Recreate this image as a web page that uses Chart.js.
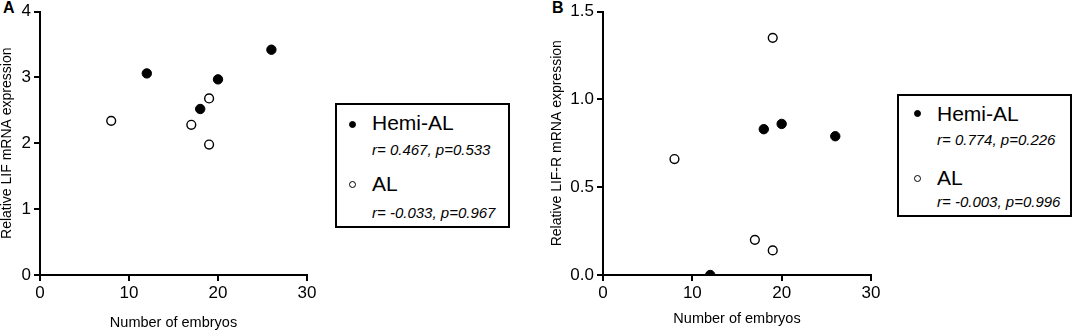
<!DOCTYPE html>
<html>
<head>
<meta charset="utf-8">
<script src="https://cdn.jsdelivr.net/npm/chart.js@4/dist/chart.umd.min.js"></script>
<style>
  body { margin: 0; background: #fff; }
  #page { position: relative; width: 1074px; height: 333px; overflow: hidden; font-family: "Liberation Sans", Arial, sans-serif; color: #000; }
  .panel { position: absolute; top: 0; height: 333px; }
  .letter { position: absolute; font-weight: bold; font-size: 16px; line-height: 16px; }
  .legend { position: absolute; box-sizing: border-box; border: 2px solid #000; width: 175px; background: #fff; }
  .legend .dot { position: absolute; width: 7px; height: 7px; border-radius: 50%; box-sizing: border-box; border: 1px solid #000; }
  .legend .name { position: absolute; font-size: 21px; line-height: 22px; white-space: nowrap; }
  .legend .stat { position: absolute; font-size: 15px; line-height: 16px; font-style: italic; white-space: nowrap; }
</style>
</head>
<body>
<div id="page">
  <div class="letter" style="left:3px; top:0px;">A</div>
  <div class="panel" style="left:0px; width:330px;"><canvas id="chartLif"></canvas></div>
  <div class="legend" style="left:335px; top:103px; height:125px;">
    <div class="dot" style="left:12px; top:16px; background:#000;"></div>
    <div class="name" style="left:35px; top:7px;">Hemi-AL</div>
    <div class="stat" style="left:35px; top:37px;">r= 0.467, p=0.533</div>
    <div class="dot" style="left:12px; top:76px; background:#fff;"></div>
    <div class="name" style="left:35px; top:68px;">AL</div>
    <div class="stat" style="left:35px; top:100px;">r= -0.033, p=0.967</div>
  </div>

  <div class="letter" style="left:552px; top:0px;">B</div>
  <div class="panel" style="left:550px; width:340px;"><canvas id="chartLifR"></canvas></div>
  <div class="legend" style="left:897px; top:94px; height:123px;">
    <div class="dot" style="left:15px; top:14px; background:#000;"></div>
    <div class="name" style="left:38px; top:7px;">Hemi-AL</div>
    <div class="stat" style="left:38px; top:36px;">r= 0.774, p=0.226</div>
    <div class="dot" style="left:15px; top:79px; background:#fff;"></div>
    <div class="name" style="left:38px; top:71px;">AL</div>
    <div class="stat" style="left:38px; top:98px;">r= -0.003, p=0.996</div>
  </div>
</div>

<script>
// --- DONNÉES ---
const hemiEmbryos = [12, 18, 20, 26];
const alEmbryos = [8, 17, 19, 19];

// A : LIF
const hemiLif = [3.06, 2.52, 2.97, 3.42];
const alLif = [2.34, 2.28, 2.68, 1.98];

// B : LIF-R
const hemiLifR = [0.0, 0.83, 0.86, 0.79];
const alLifR = [0.66, 0.2, 0.14, 1.35];

const xTicks = [0, 10, 20, 30];
const yTicksA = [0, 1, 2, 3, 4];
const yTicksB = [0, 0.5, 1.0, 1.5];

Chart.defaults.font.family = "'Liberation Sans', Arial, sans-serif";
Chart.defaults.color = "#000";

function toPoints(xs, ys) {
  return xs.map((x, i) => ({ x: x, y: ys[i] }));
}

// --- CRÉATION D'UN NUAGE DE POINTS ---
function makeScatter(id, hemi, al, yOpts) {
  const axisStyle = {
    border: { color: "#000", width: 2 },
    grid: { drawOnChartArea: false, drawTicks: true, tickLength: 6, color: "#000", lineWidth: 2 },
  };

  return new Chart(document.getElementById(id), {
    type: "scatter",
    data: {
      datasets: [
        {
          label: "Hemi-AL",
          data: toPoints(hemiEmbryos, hemi),
          backgroundColor: "#000",
          borderColor: "#000",
          borderWidth: 1,
          pointRadius: 4.7,
        },
        {
          label: "AL",
          data: toPoints(alEmbryos, al),
          backgroundColor: "#fff",
          borderColor: "#000",
          borderWidth: 1.4,
          pointRadius: 4.4,
        },
      ],
    },
    options: {
      responsive: false,
      animation: false,
      layout: { padding: { top: 8, right: yOpts.padRight, left: 0, bottom: 0 } },
      plugins: { legend: { display: false }, tooltip: { enabled: false } },
      scales: {
        x: {
          type: "linear",
          min: 0,
          max: 30,
          ...axisStyle,
          afterBuildTicks: (s) => { s.ticks = xTicks.map((v) => ({ value: v })); },
          afterFit: (s) => { s.height = 58; },
          ticks: { font: { size: 17, lineHeight: 1 }, padding: 4 },
          title: {
            display: true,
            text: "Number of embryos",
            font: { size: 14.5, lineHeight: 1 },
            padding: { top: 0, bottom: yOpts.titleBottom },
          },
        },
        y: {
          type: "linear",
          min: 0,
          max: yOpts.max,
          ...axisStyle,
          afterBuildTicks: (s) => { s.ticks = yOpts.ticks.map((v) => ({ value: v })); },
          afterFit: (s) => { s.width = yOpts.width; },
          ticks: {
            font: { size: 17, lineHeight: 1 },
            padding: 3,
            callback: (v) => (yOpts.decimals ? v.toFixed(1) : v),
          },
          title: {
            display: true,
            text: yOpts.title,
            font: { size: 14, lineHeight: 1 },
            padding: 0,
          },
        },
      },
    },
  });
}

function sizeCanvas(id, w, h) {
  const c = document.getElementById(id);
  c.width = w;
  c.height = h;
  c.style.width = w + "px";
  c.style.height = h + "px";
}

sizeCanvas("chartLif", 330, 333);
sizeCanvas("chartLifR", 340, 333);

makeScatter("chartLif", hemiLif, alLif, {
  max: 4,
  ticks: yTicksA,
  width: 40,
  padRight: 23,
  titleBottom: 3,
  decimals: false,
  title: "Relative LIF mRNA expression",
});

makeScatter("chartLifR", hemiLifR, alLifR, {
  max: 1.5,
  ticks: yTicksB,
  width: 53,
  padRight: 19,
  titleBottom: 7,
  decimals: true,
  title: "Relative LIF-R mRNA expression",
});
</script>
</body>
</html>
